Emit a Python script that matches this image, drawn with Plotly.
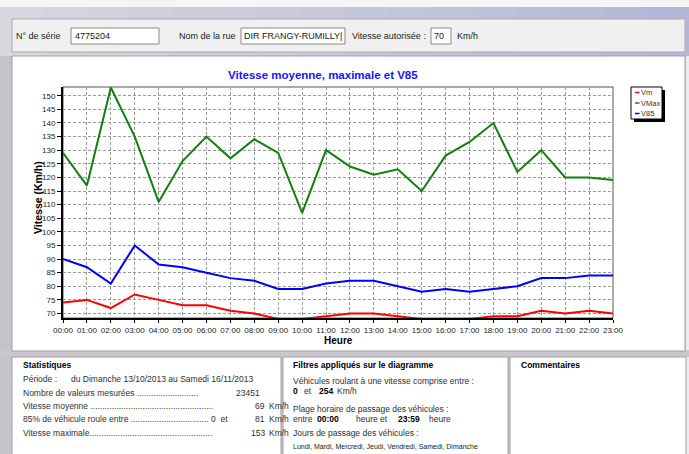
import plotly.graph_objects as go

# ---------------- data ----------------
hours = ["00:00", "01:00", "02:00", "03:00", "04:00", "05:00", "06:00", "07:00",
         "08:00", "09:00", "10:00", "11:00", "12:00", "13:00", "14:00", "15:00",
         "16:00", "17:00", "18:00", "19:00", "20:00", "21:00", "22:00", "23:00"]
vm = [74, 75, 72, 77, 75, 73, 73, 71, 70, 68, 68, 69, 70, 70, 69, 68, 68, 68, 69, 69, 71, 70, 71, 70]
vmax = [129, 117, 153, 135, 111, 126, 135, 127, 134, 129, 107, 130, 124, 121, 123, 115, 128, 133, 140, 122, 130, 120, 120, 119]
v85 = [90, 87, 81, 95, 88, 87, 85, 83, 82, 79, 79, 81, 82, 82, 80, 78, 79, 78, 79, 80, 83, 83, 84, 84]
y_ticks = [70, 75, 80, 85, 90, 95, 100, 105, 110, 115, 120, 125, 130, 135, 140, 145, 150]
series_names = ["Vm", "VMax", "V85"]
series_colors = ["#ff0000", "#108010", "#0000ff"]

# ---------------- geometry ----------------
W, H = 689, 454
ML, MR, MT, MB = 63, 76, 87, 136
PW = W - ML - MR
PH = H - MT - MB
FONT = "Liberation Sans, Arial, sans-serif"


def px(x):
    return (x - ML) / PW


def py(y):
    return (H - MB - y) / PH


fig = go.Figure()
for name, vals, col in zip(series_names, [vm, vmax, v85], series_colors):
    fig.add_trace(go.Scatter(x=hours, y=vals, mode="lines", name=name,
                             line=dict(color=col, width=2), showlegend=False,
                             cliponaxis=True))

shapes = []


def rect(x0, y0, x1, y1, fill, line=None, lw=1, layer="below"):
    shapes.append(dict(type="rect", xref="paper", yref="paper",
                       x0=px(x0), x1=px(x1), y0=py(y1), y1=py(y0),
                       fillcolor=fill, layer=layer,
                       line=dict(color=line if line else fill, width=lw if line else 0)))


def hline(x0, x1, y, color, lw=1, layer="below"):
    shapes.append(dict(type="line", xref="paper", yref="paper",
                       x0=px(x0), x1=px(x1), y0=py(y), y1=py(y), layer=layer,
                       line=dict(color=color, width=lw)))


# window frame
rect(0, 0, W, 7, "#f5f5f7")
n = 16
c0 = (216, 214, 222)
c1 = (180, 184, 214)
for i in range(n):
    t = i / (n - 1)
    c = tuple(int(c0[k] + (c1[k] - c0[k]) * t) for k in range(3))
    rect(W * i / n, 7, W * (i + 1) / n + 1, 56, "rgb(%d,%d,%d)" % c)
rect(0, 56, 12, H, "#c6c3cc")
rect(686, 56, W, H, "#ececf0")
rect(0, 350, W, 357, "#c9c6ce")

# top panel
rect(12, 19, 685, 52, "#f0f0f0", "#a9a9b3")
rect(71, 28, 159, 44, "#ffffff", "#8a8a8a")
rect(241, 28, 345, 44, "#ffffff", "#8a8a8a")
rect(431, 28, 451, 44, "#ffffff", "#8a8a8a")

# chart panel
rect(12, 56, 685, 351, "#ffffff", "#a0a0a0")
# bottom boxes
rect(12, 357, 281, H + 3, "#ffffff", "#a0a0a0")
rect(283, 357, 508, H + 3, "#ffffff", "#a0a0a0")
rect(510, 357, 686, H + 3, "#ffffff", "#a0a0a0")

# plot border (top/right)
rect(ML, MT, ML + PW, MT + PH, "rgba(0,0,0,0)", "#555555", 1)

# legend box with shadow
rect(634, 90, 665, 122, "#000000", layer="above")
rect(631, 87, 662, 119, "#ffffff", "#000000", 1, layer="above")
leg_y = [92.5, 103, 113.5]
for col, yy in zip(series_colors, leg_y):
    hline(635, 639.5, yy, col, 1.5, layer="above")

ann = []


def text(x, y, s, size=8.5, color="#202020", bold=False, anchor="left", angle=0):
    ann.append(dict(xref="paper", yref="paper", x=px(x), y=py(y), text=("<b>%s</b>" % s) if bold else s,
                    showarrow=False, xanchor=anchor, yanchor="middle", textangle=angle,
                    font=dict(family=FONT, size=size, color=color), borderpad=0))


for name, yy in zip(series_names, leg_y):
    text(640, yy, name, size=7.5, color="#303030")

# chart titles
text(322.5, 75, "Vitesse moyenne, maximale et V85", size=11.5, color="#1414ff", bold=True, anchor="center")
text(38, 198, "Vitesse (Km/h)", size=10.5, color="#000000", bold=True, anchor="center", angle=-90)
text(338, 340, "Heure", size=10, color="#000000", bold=True, anchor="center")

# top panel text
text(15, 36, "N° de série", size=9)
text(74, 36, "4775204", size=9)
text(178, 36, "Nom de la rue", size=9)
text(243, 36, "DIR FRANGY-RUMILLY|", size=9)
text(351, 36, "Vitesse autorisée :", size=9)
text(433, 36, "70", size=9)
text(456, 36, "Km/h", size=9)

# statistiques
ST = "#303030"
text(22, 365, "Statistiques", size=8.5, color="#000000", bold=True)
text(22, 379, "Période :", size=8.5, color=ST)
text(70, 379, "du Dimanche 13/10/2013 au Samedi 16/11/2013", size=8.5, color=ST)
text(22, 392.5, "Nombre de valeurs mesurées " + "." * 26, size=8.5, color=ST)
text(261, 392.5, "23451", size=8.5, color=ST, anchor="right")
text(22, 406, "Vitesse moyenne " + "." * 52, size=8.5, color=ST)
text(266, 406, "69", size=8.5, color=ST, anchor="right")
text(268, 406, "Km/h", size=8.5, color=ST)
text(22, 419, "85% de véhicule roule entre " + "." * 33 + " 0  et", size=8.5, color=ST)
text(266, 419, "81", size=8.5, color=ST, anchor="right")
text(268, 419, "Km/h", size=8.5, color=ST)
text(22, 432.5, "Vitesse maximale" + "." * 52, size=8.5, color=ST)
text(266, 432.5, "153", size=8.5, color=ST, anchor="right")
text(268, 432.5, "Km/h", size=8.5, color=ST)

# filtres
text(292, 365, "Filtres appliqués sur le diagramme", size=8.5, color="#000000", bold=True)
text(292, 381, "Véhicules roulant à une vitesse comprise entre :", size=8.5, color=ST)
text(292, 391, "0", size=8.5, color="#000000", bold=True)
text(303, 391, "et", size=8.5, color=ST)
text(318, 391, "254", size=8.5, color="#000000", bold=True)
text(336, 391, "Km/h", size=8.5, color=ST)
text(292, 409, "Plage horaire de passage des véhicules :", size=8.5, color=ST)
text(292, 419, "entre", size=8.5, color=ST)
text(316, 419, "00:00", size=8.5, color="#000000", bold=True)
text(355, 419, "heure et", size=8.5, color=ST)
text(397, 419, "23:59", size=8.5, color="#000000", bold=True)
text(428, 419, "heure", size=8.5, color=ST)
text(292, 433, "Jours de passage des véhicules :", size=8.5, color=ST)
text(292, 446, "Lundi, Mardi, Mercredi, Jeudi, Vendredi, Samedi, Dimanche", size=7, color="#202020")

text(520, 365, "Commentaires", size=8.5, color="#000000", bold=True)

grid_style = dict(showgrid=True, gridcolor="#9a9a9a", gridwidth=1, griddash="3px,2px")

fig.update_layout(
    width=W, height=H,
    margin=dict(l=ML, r=MR, t=MT, b=MB, pad=0),
    paper_bgcolor="#c9c8d8",
    plot_bgcolor="rgba(0,0,0,0)",
    showlegend=False,
    shapes=shapes,
    annotations=ann,
    font=dict(family=FONT, size=8, color="#222222"),
    xaxis=dict(type="category", range=[0, 23], tickvals=hours, ticktext=hours,
               showline=True, linecolor="#000000", linewidth=2,
               ticks="outside", ticklen=3, tickcolor="#000000",
               tickfont=dict(family=FONT, size=8, color="#222222"),
               zeroline=False, **grid_style),
    yaxis=dict(range=[68.35, 153.2], tickvals=y_ticks,
               showline=True, linecolor="#000000", linewidth=2,
               ticks="outside", ticklen=4, tickcolor="#000000",
               tickfont=dict(family=FONT, size=8, color="#222222"),
               zeroline=False, **grid_style),
)

fig.write_html("out.html", config={"displayModeBar": False},
               post_script="document.body.style.margin='0';document.body.style.overflow='hidden';")
